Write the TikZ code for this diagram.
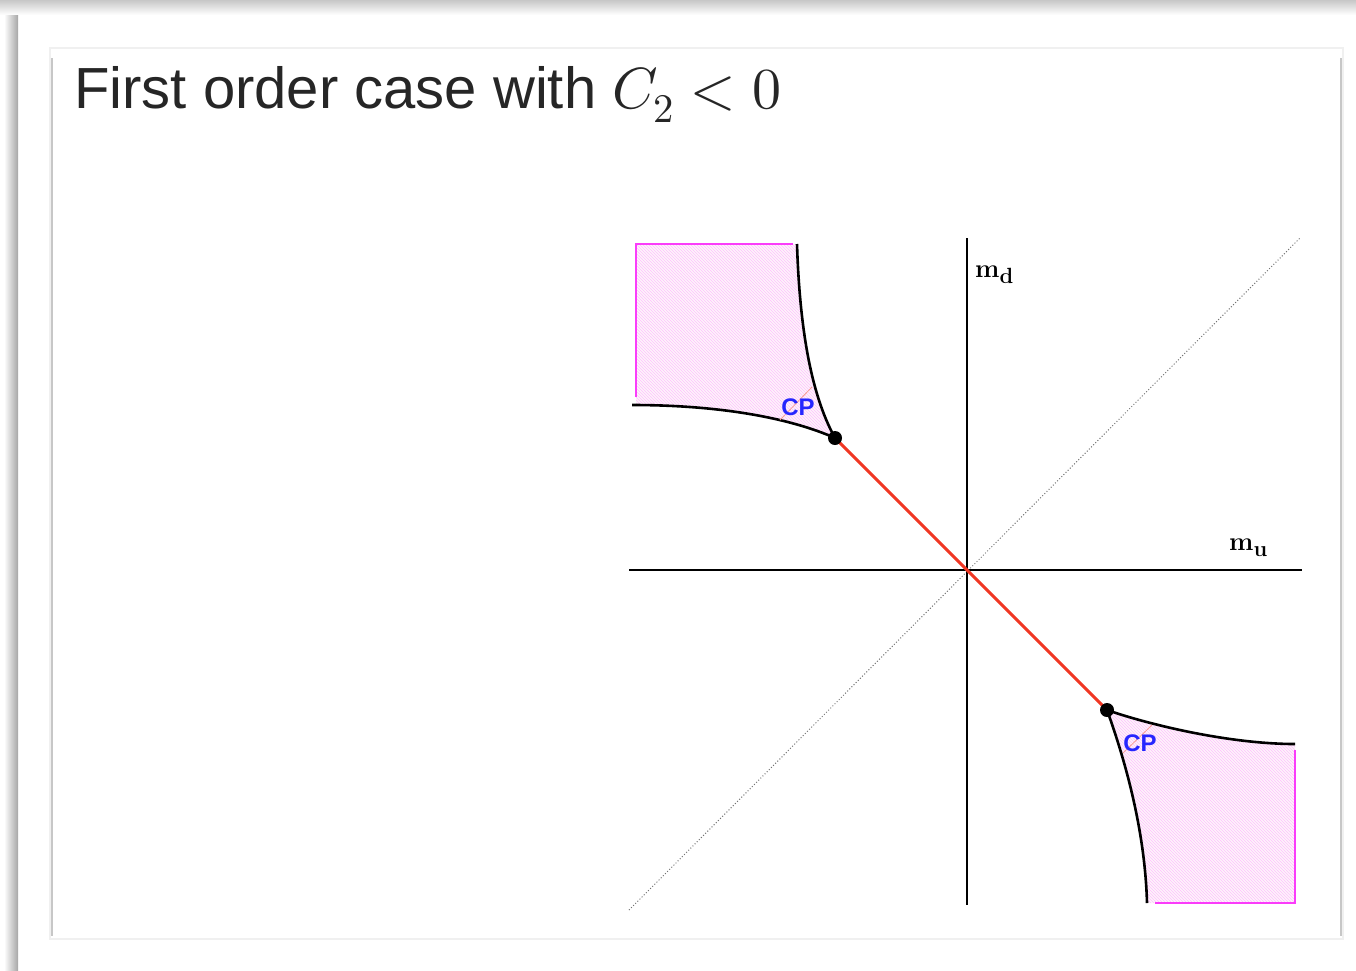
\documentclass[tikz,border=0pt]{standalone}
\usepackage{fontspec}
\setmainfont{Liberation Sans}
\usepackage{unicode-math}
\setmathfont{Latin Modern Math}
\newfontfamily\lmr{Latin Modern Roman}
\usetikzlibrary{patterns}
\definecolor{mag}{RGB}{250,60,250}
\definecolor{redl}{RGB}{240,55,35}
\begin{document}
\begin{tikzpicture}[x=1pt,y=-1pt,
  axis/.style={black,line width=1.8pt},
  bcurve/.style={black,line width=2.6pt},
  mline/.style={mag,line width=2pt},
  hatchfill/.style={pattern=north west lines,pattern color=mag!32},
  cplabel/.style={text=blue!85!white,font=\fontsize{24}{24}\selectfont\bfseries,inner sep=0pt},
  axlabel/.style={font=\lmr\fontsize{26}{26}\selectfont\bfseries,inner sep=0pt},
  dot/.style={circle,fill=black,inner sep=0pt,minimum size=14pt}]
\useasboundingbox (0,0) rectangle (1356,970);
% shadows / frame
\shade[top color=black!22,bottom color=white] (0,0) rectangle (1356,15);
\shade[left color=white,right color=black!35] (4,15) rectangle (18,970);
\draw[black!6,line width=1.5pt] (50,48) rectangle (1343,939);
\draw[black!22,line width=1.5pt] (52,58) -- (52,936);
\draw[black!22,line width=1.5pt] (1341,58) -- (1341,936);
% title
\node[anchor=base west,inner sep=0pt,font=\fontsize{58}{62}\selectfont,text=black!85] (title) at (74,108) {First order case with $C_2<0$};
% coordinates
\coordinate (O) at (967,570);
\coordinate (P1) at (835,438);
\coordinate (P2) at (1107,710);
% upper-left region
\fill[magenta!4] (636,244) -- (797,244) .. controls (800,340) and (814,400) .. (835,438)
   .. controls (790,418) and (720,405) .. (636,405) -- cycle;
\fill[hatchfill] (636,244) -- (797,244) .. controls (800,340) and (814,400) .. (835,438)
   .. controls (790,418) and (720,405) .. (636,405) -- cycle;
\draw[mline] (636,397) -- (636,244) -- (793,244);
\draw[bcurve] (797,244) .. controls (800,340) and (814,400) .. (P1);
\draw[bcurve] (632,405) .. controls (720,405) and (790,418) .. (P1);
% lower-right region
\fill[magenta!4] (P2) .. controls (1150,725) and (1230,744) .. (1295,744) -- (1295,903) -- (1147,903)
   .. controls (1145,830) and (1125,760) .. (P2) -- cycle;
\fill[hatchfill] (P2) .. controls (1150,725) and (1230,744) .. (1295,744) -- (1295,903) -- (1147,903)
   .. controls (1145,830) and (1125,760) .. (P2) -- cycle;
\draw[mline] (1295,750) -- (1295,903) -- (1155,903);
\draw[bcurve] (P2) .. controls (1150,725) and (1230,744) .. (1295,744);
\draw[bcurve] (P2) .. controls (1125,760) and (1145,830) .. (1147,903);
% diagonal
\coordinate (D1) at (629,910);
\coordinate (D2) at (1300,238);
\draw[black!55,dotted,line width=1pt] (D1) -- (D2);
% axes
\coordinate (XL) at (629,570);
\coordinate (XR) at (1302,570);
\coordinate (YT) at (967,238);
\coordinate (YB) at (967,905);
\draw[axis] (XL) -- (XR);
\draw[axis] (YT) -- (YB);
% faint red ticks
\coordinate (T1a) at (812,387); \coordinate (T1b) at (780,420);
\coordinate (T2a) at (1152,725); \coordinate (T2b) at (1123,753);
\draw[redl!50,line width=0.8pt] (T1a) -- (T1b);
\draw[redl!50,line width=0.8pt] (T2a) -- (T2b);
% red line
\draw[redl,line width=3pt] (P1) -- (P2);
\node[dot] (d1) at (P1) {};
\node[dot] (d2) at (P2) {};
% labels
\node[cplabel] (cp1) at (798,407) {CP};
\node[cplabel] (cp2) at (1140,743) {CP};
\node[axlabel,anchor=base west] (md) at (975,277) {m\raisebox{-0.25em}{\fontsize{22}{22}\selectfont d}};
\node[axlabel,anchor=base west] (mu) at (1229,550) {m\raisebox{-0.25em}{\fontsize{22}{22}\selectfont u}};
\end{tikzpicture}
\end{document}
